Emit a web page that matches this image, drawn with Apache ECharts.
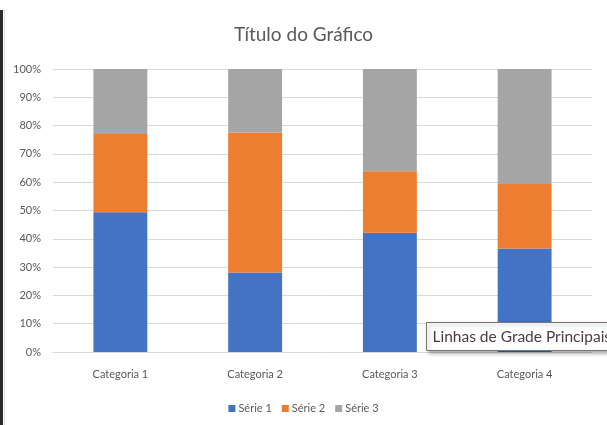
<!DOCTYPE html>
<html>
<head>
<meta charset="utf-8">
<script src="https://cdn.jsdelivr.net/npm/echarts@6/dist/echarts.min.js"></script>
<style>
  html, body { margin: 0; padding: 0; background: #fff; }
  #chart { width: 607px; height: 425px; }
</style>
</head>
<body>
<div id="chart"></div>
<script>
// Raw values per category; the chart shows each as a share of its category total
const categories = ['Categoria 1', 'Categoria 2', 'Categoria 3', 'Categoria 4'];
const serie1 = [4.3, 2.5, 3.5, 4.5];
const serie2 = [2.4, 4.4, 1.8, 2.8];
const serie3 = [2, 2, 3, 5];
const seriesNames = ['Série 1', 'Série 2', 'Série 3'];
const yTicks = [0, 10, 20, 30, 40, 50, 60, 70, 80, 90, 100];

const totals = categories.map((_, i) => serie1[i] + serie2[i] + serie3[i]);
const pct = arr => arr.map((v, i) => v / totals[i] * 100);

const colors = ['#4472C4', '#ED7D31', '#A5A5A5'];
const font = 'Lato, "Open Sans", sans-serif';

const chart = echarts.init(document.getElementById('chart'), null, { renderer: 'canvas' });

const makeSeries = (name, data, color) => ({
  name,
  type: 'bar',
  stack: 'total',
  data: pct(data),
  barWidth: '40%',
  itemStyle: { color },
  emphasis: { disabled: true }
});

chart.setOption({
  animation: false,
  title: {
    text: 'Título do Gráfico',
    left: 'center',
    top: 20,
    textStyle: { fontFamily: font, fontSize: 19, fontWeight: 'normal', color: '#595959' }
  },
  legend: {
    data: seriesNames,
    bottom: 6,
    left: 'center',
    itemWidth: 7,
    itemHeight: 7,
    itemGap: 10,
    icon: 'rect',
    textStyle: { fontFamily: font, fontSize: 11, color: '#595959', padding: [0, 0, 0, -2] }
  },
  grid: { left: 53, right: 15, top: 69, bottom: 73 },
  xAxis: {
    type: 'category',
    data: categories,
    axisLine: { lineStyle: { color: '#D9D9D9' } },
    axisTick: { show: false },
    axisLabel: { fontFamily: font, fontSize: 11, color: '#595959', margin: 17 }
  },
  yAxis: {
    type: 'value',
    min: yTicks[0],
    max: yTicks[yTicks.length - 1],
    interval: yTicks[1] - yTicks[0],
    axisLine: { show: false },
    axisTick: { show: false },
    splitLine: { lineStyle: { color: '#D9D9D9' } },
    axisLabel: { formatter: '{value}%', fontFamily: font, fontSize: 11, color: '#595959', margin: 12 }
  },
  series: [
    makeSeries(seriesNames[0], serie1, colors[0]),
    makeSeries(seriesNames[1], serie2, colors[1]),
    makeSeries(seriesNames[2], serie3, colors[2])
  ],
  graphic: [
    // window edge on the left
    { type: 'rect', left: 0, top: 10, z: 100, shape: { width: 3, height: 415 }, style: { fill: '#2b2b2b' } },
    { type: 'rect', left: 4, top: 10, z: 100, shape: { width: 1, height: 415 }, style: { fill: '#E0E0E0' } },
    // hover hint over the gridlines
    {
      type: 'group',
      left: 426,
      top: 322,
      z: 100,
      children: [
        {
          type: 'rect',
          z: 100,
          shape: { x: 0, y: 0, width: 200, height: 28 },
          style: {
            fill: '#FFFFFF', stroke: '#767676', lineWidth: 1,
            shadowBlur: 4, shadowOffsetX: 2, shadowOffsetY: 2, shadowColor: 'rgba(0,0,0,0.35)'
          }
        },
        {
          type: 'text',
          z: 101,
          style: {
            x: 6, y: 14, text: 'Linhas de Grade Principais',
            fontFamily: font, fontSize: 15.5, fill: '#4a3c3c', verticalAlign: 'middle'
          }
        }
      ]
    }
  ]
});
</script>
</body>
</html>
